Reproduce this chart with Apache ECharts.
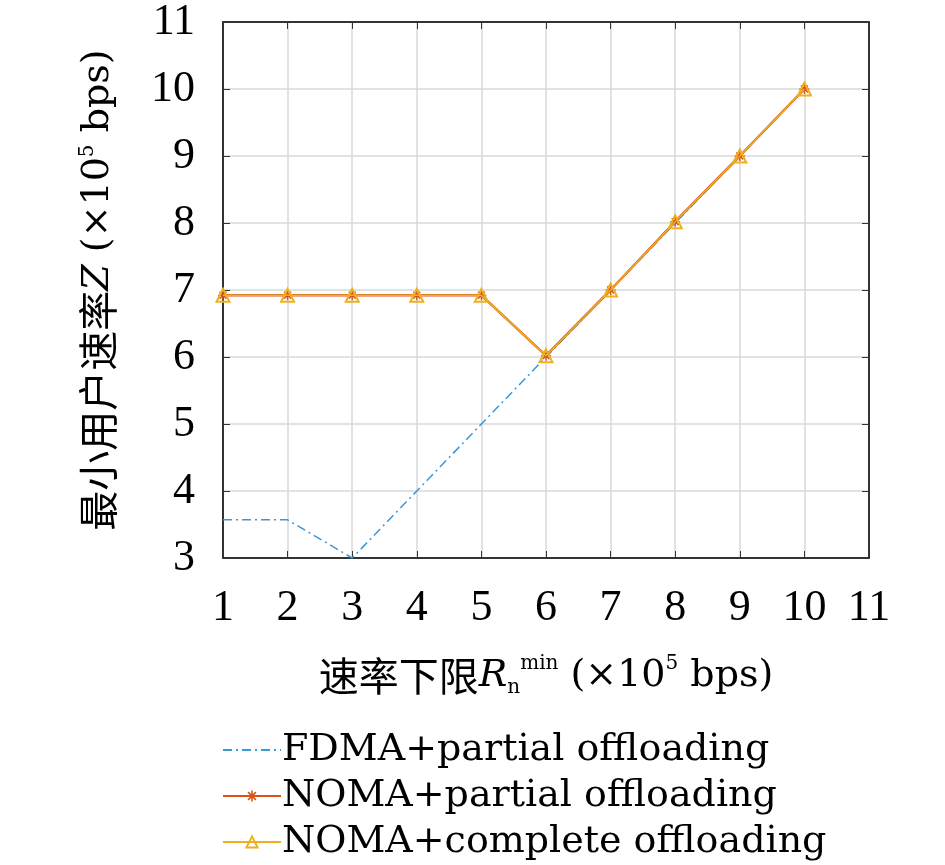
<!DOCTYPE html>
<html>
<head>
<meta charset="utf-8">
<script src="https://cdn.jsdelivr.net/npm/echarts@6/dist/echarts.min.js"></script>
<style>
  html, body { margin: 0; padding: 0; background: #fff; }
  #main { width: 945px; height: 865px; }
</style>
</head>
<body>
<div id="main"></div>
<script>
// 数据
var rMin = [1, 2, 3, 4, 5, 6, 7, 8, 9, 10];
var fdmaPartial = [3.57, 3.57, 3.0, 4.0, 5.0, 6.0, 7.0, 8.0, 9.0, 10.0];
var nomaPartial = [6.92, 6.92, 6.92, 6.92, 6.92, 6.02, 7.0, 8.02, 9.0, 10.0];
var nomaComplete = [6.92, 6.92, 6.92, 6.92, 6.92, 6.02, 7.0, 8.02, 9.0, 10.0];
var seriesNames = ['FDMA+partial offloading', 'NOMA+partial offloading', 'NOMA+complete offloading'];

function pairs(ys) {
    return rMin.map(function (x, i) { return [x, ys[i]]; });
}

var serif = '"Liberation Serif", "DejaVu Serif", serif';
var wideSerif = '"DejaVu Serif", "Liberation Serif", serif';
var cjk = '"Noto Sans CJK SC", sans-serif';
var gridColor = '#d9d9d9';
var asterisk = 'path://M-0.7,-5 L0.7,-5 L0.7,5 L-0.7,5 Z M-5,-0.7 L5,-0.7 L5,0.7 L-5,0.7 Z M-4,-3 L-3,-4 L4,3 L3,4 Z M3,-4 L4,-3 L-3,4 L-4,3 Z';

var myChart = echarts.init(document.getElementById('main'));

var axisText = { color: '#000', fontFamily: serif, fontSize: 44 };
var nameRich = {
    cn: { fontFamily: cjk, fontSize: 40, color: '#000' },
    it: { fontFamily: wideSerif, fontStyle: 'italic', fontSize: 38, color: '#000' },
    t: { fontFamily: wideSerif, fontSize: 38, color: '#000' },
    sup: { fontFamily: wideSerif, fontSize: 20, color: '#000', verticalAlign: 'top', padding: [0, 0, 16, 0] },
    sub: { fontFamily: wideSerif, fontSize: 20, color: '#000', padding: [24, 0, 0, 0] }
};

var option = {
    backgroundColor: '#fff',
    animation: false,
    grid: { left: 223, right: 76, top: 20, bottom: 307 },
    legend: {
        orient: 'vertical',
        left: 222,
        top: 729,
        height: 136,
        padding: 0,
        itemWidth: 58,
        itemHeight: 14,
        itemGap: 4,
        data: [
            { name: seriesNames[0], itemStyle: { color: 'rgba(0,0,0,0)', borderWidth: 0 } },
            seriesNames[1],
            seriesNames[2]
        ],
        textStyle: { color: '#000', fontFamily: wideSerif, fontSize: 38, lineHeight: 42, padding: [0, 0, 0, -4] }
    },
    xAxis: [
        {
            type: 'value', min: 1, max: 11, interval: 1,
            name: '{cn|速率下限}{it|R}{sub|n}{sup|min}{t| (×10}{sup|5}{t| bps)}',
            nameLocation: 'middle', nameGap: 96,
            nameTextStyle: { rich: nameRich },
            axisLine: { show: true, onZero: false, lineStyle: { color: '#333', width: 2 } },
            axisTick: { show: true, inside: true, length: 7, lineStyle: { color: '#333' } },
            axisLabel: Object.assign({ margin: 28 }, axisText),
            splitLine: { show: true, lineStyle: { color: gridColor, width: 1.5 } }
        },
        {
            type: 'value', min: 1, max: 11, interval: 1, position: 'top',
            axisLine: { show: true, onZero: false, lineStyle: { color: '#333', width: 2 } },
            axisTick: { show: true, inside: true, length: 7, lineStyle: { color: '#333' } },
            axisLabel: { show: false },
            splitLine: { show: false }
        }
    ],
    yAxis: [
        {
            type: 'value', min: 3, max: 11, interval: 1,
            name: '{cn|最小用户速率}{it|Z}{t| (×10}{sup|5}{t| bps)}',
            nameLocation: 'middle', nameGap: 105, nameRotate: 90,
            nameTextStyle: { rich: nameRich },
            axisLine: { show: true, onZero: false, lineStyle: { color: '#333', width: 2 } },
            axisTick: { show: true, inside: true, length: 7, lineStyle: { color: '#333' } },
            axisLabel: Object.assign({ margin: 28 }, axisText),
            splitLine: { show: true, lineStyle: { color: gridColor, width: 1.5 } }
        },
        {
            type: 'value', min: 3, max: 11, interval: 1, position: 'right',
            axisLine: { show: true, onZero: false, lineStyle: { color: '#333', width: 2 } },
            axisTick: { show: true, inside: true, length: 7, lineStyle: { color: '#333' } },
            axisLabel: { show: false },
            splitLine: { show: false }
        }
    ],
    series: [
        {
            name: seriesNames[0],
            type: 'line',
            data: pairs(fdmaPartial),
            symbol: 'none',
            color: '#3a97d8',
            lineStyle: { color: '#3a97d8', width: 1.5, type: [9, 4, 2, 4] },
            z: 2
        },
        {
            name: seriesNames[1],
            type: 'line',
            data: pairs(nomaPartial),
            symbol: asterisk,
            symbolSize: 10,
            color: '#d95319',
            itemStyle: { color: '#d95319' },
            lineStyle: { color: '#d95319', width: 2.5 },
            z: 3
        },
        {
            name: seriesNames[2],
            type: 'line',
            data: pairs(nomaComplete),
            symbol: 'triangle',
            symbolSize: 13,
            color: '#edb120',
            itemStyle: { color: 'rgba(255,255,255,0)', borderColor: '#edb120', borderWidth: 2 },
            lineStyle: { color: '#edb120', width: 1.5 },
            z: 4
        }
    ]
};

myChart.setOption(option);

window.addEventListener('resize', function () {
    myChart.resize();
});
</script>
</body>
</html>
